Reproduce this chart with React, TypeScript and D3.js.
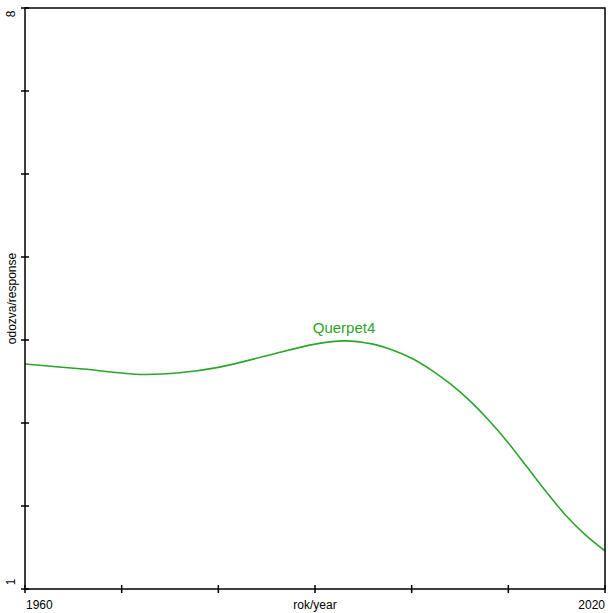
import React from "react";
import * as d3 from "d3";

const years = [1960, 1966, 1972, 1976, 1980, 1985, 1990, 1993, 1996, 1998, 2000, 2002, 2004, 2006, 2008, 2010, 2012, 2014, 2016, 2018, 2020];
const values = [3.71, 3.65, 3.585, 3.605, 3.67, 3.81, 3.95, 3.99, 3.95, 3.88, 3.78, 3.64, 3.47, 3.27, 3.03, 2.76, 2.46, 2.16, 1.88, 1.65, 1.46];
const xTicks = [1960, 1970, 1980, 1990, 2000, 2010, 2020];
const yTicks = [1, 2, 3, 4, 5, 6, 7, 8];
const seriesName = "Querpet4";

export default function App() {
  const W = 615, H = 613;
  const L = 25, R = 605, T = 8, B = 589;
  const x = d3.scaleLinear().domain([1960, 2020]).range([L, R]);
  const y = d3.scaleLinear().domain([1, 8]).range([B, T]);
  const line = d3
    .line<number>()
    .x((_, i) => x(years[i]))
    .y((d) => y(d))
    .curve(d3.curveCatmullRom.alpha(0.5));
  const green = "#2ca42c";
  const font = "'Liberation Sans', Arial, sans-serif";
  const peakIdx = values.indexOf(d3.max(values)!);
  return (
    <svg width={W} height={H} style={{ position: "absolute", left: 0, top: 0, background: "#fff" }}>
      <rect x={0} y={0} width={W} height={H} fill="#fff" />
      <path d={line(values) || ""} fill="none" stroke={green} strokeWidth={1.6} />
      <rect x={L} y={T} width={R - L} height={B - T} fill="none" stroke="#000" strokeWidth={1.5} />
      {yTicks.map((t) => (
        <line key={"y" + t} x1={L - 4} x2={L + 4} y1={y(t)} y2={y(t)} stroke="#000" strokeWidth={1.5} />
      ))}
      {xTicks.map((t) => (
        <line key={"x" + t} x1={x(t)} x2={x(t)} y1={B - 4} y2={B + 4} stroke="#000" strokeWidth={1.5} />
      ))}
      <text x={L + 1} y={609} fontFamily={font} fontSize={12} fill="#000">{xTicks[0]}</text>
      <text x={R} y={609} fontFamily={font} fontSize={12} fill="#000" textAnchor="end">{xTicks[xTicks.length - 1]}</text>
      <text x={(L + R) / 2} y={609} fontFamily={font} fontSize={12} fill="#000" textAnchor="middle">rok/year</text>
      <text transform={`translate(15,${T + 6}) rotate(-90)`} fontFamily={font} fontSize={12} fill="#000" textAnchor="middle">{yTicks[yTicks.length - 1]}</text>
      <text transform={`translate(15,${B - 7}) rotate(-90)`} fontFamily={font} fontSize={12} fill="#000" textAnchor="middle">{yTicks[0]}</text>
      <text transform={`translate(16,${(T + B) / 2}) rotate(-90)`} fontFamily={font} fontSize={12} fill="#000" textAnchor="middle">odozva/response</text>
      <text x={x(years[peakIdx])} y={y(values[peakIdx]) - 8} fontFamily={font} fontSize={15} fill={green} textAnchor="middle">{seriesName}</text>
    </svg>
  );
}
